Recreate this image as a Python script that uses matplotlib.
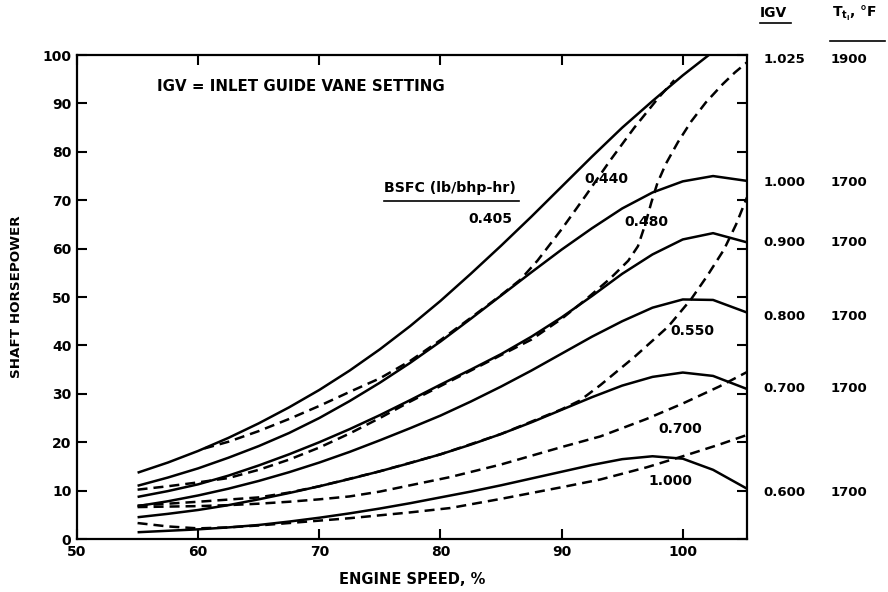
import matplotlib
matplotlib.use("Agg")
import matplotlib.pyplot as plt
from matplotlib.transforms import blended_transform_factory

plt.rcParams['font.family'] = 'DejaVu Sans'
plt.rcParams['font.weight'] = 'bold'

# ---- solid lines: constant inlet guide vane setting (IGV) ----
x_igv = [55, 57.5, 60, 62.5, 65, 67.5, 70, 72.5, 75, 77.5, 80, 82.5, 85,
         87.5, 90, 92.5, 95, 97.5, 100, 102.5, 105.3]
igv_1025_x = [55, 57.5, 60, 62.5, 65, 67.5, 70, 72.5, 75, 77.5, 80, 82.5, 85,
              87.5, 90, 92.5, 95, 97.5, 100, 102.3]
igv_1025 = [13.7, 15.8, 18.2, 20.9, 23.9, 27.2, 30.8, 34.8, 39.2, 44.0, 49.2,
            54.8, 60.6, 66.6, 72.8, 79.0, 85.0, 90.5, 95.8, 100.3]
igv_1000 = [11.0, 12.7, 14.6, 16.8, 19.2, 21.9, 25.0, 28.5, 32.3, 36.4, 40.8,
            45.5, 50.3, 55.1, 59.8, 64.2, 68.3, 71.6, 73.9, 75.0, 74.0]
igv_0900 = [8.7, 9.9, 11.3, 13.1, 15.2, 17.5, 20.0, 22.7, 25.6, 28.7, 31.9,
            35.0, 38.2, 41.8, 45.8, 50.2, 54.8, 58.8, 61.9, 63.2, 61.3]
igv_0800 = [6.8, 7.8, 9.0, 10.4, 12.0, 13.8, 15.8, 18.0, 20.4, 22.9, 25.5,
            28.4, 31.5, 34.8, 38.3, 41.8, 45.0, 47.8, 49.5, 49.4, 46.8]
igv_0700 = [4.5, 5.2, 6.0, 7.0, 8.2, 9.5, 10.9, 12.4, 14.0, 15.7, 17.5,
            19.5, 21.7, 24.1, 26.7, 29.3, 31.7, 33.5, 34.4, 33.7, 31.0]
igv_0600 = [1.4, 1.7, 2.0, 2.4, 2.9, 3.6, 4.4, 5.3, 6.3, 7.4, 8.6,
            9.8, 11.1, 12.5, 13.9, 15.3, 16.5, 17.1, 16.6, 14.3, 10.4]

# ---- dashed lines: constant BSFC (lb/bhp-hr) ----
bsfc_0440_x = [60.5, 62.5, 65, 67.5, 70, 72.5, 75, 77.5, 80, 82.5, 85, 86.6,
               88, 90, 92, 94, 96, 98, 99.3]
bsfc_0440 = [18.7, 20.1, 22.3, 24.8, 27.5, 30.4, 33.2, 36.8, 41.1, 45.7, 50.4,
             53.6, 57.5, 64.0, 71.0, 78.2, 85.0, 91.2, 94.8]
bsfc_0480_x = [55, 57.5, 60, 62.5, 65, 67.5, 70, 72.5, 75, 77.5, 80, 82.5, 85,
               87.5, 90, 92, 94, 95.5, 96.3, 96.9, 97.4, 97.9, 98.6, 99.6,
               100.7, 101.9, 103.3, 104.3, 105.3]
bsfc_0480 = [10.2, 10.9, 11.7, 12.6, 14.3, 16.4, 18.9, 21.8, 25.0, 28.4, 31.6,
             34.8, 38.0, 41.2, 45.5, 49.5, 53.8, 57.5, 60.5, 65.0, 69.5, 73.5,
             77.5, 82.0, 86.3, 90.2, 94.0, 96.4, 98.5]
bsfc_0550_x = [55, 60, 65, 67.5, 70, 75, 80, 85, 90, 91.5, 93.2, 96, 98.8,
               100.7, 102, 103.4, 104.4, 105.3]
bsfc_0550 = [6.9, 7.7, 8.6, 9.6, 10.9, 14.0, 17.5, 21.7, 26.8, 28.6, 31.8,
             37.6, 43.9, 49.6, 54.3, 59.8, 65.0, 70.6]
bsfc_0700_x = [55, 57.5, 60, 62.5, 65, 67.5, 70, 72.5, 75, 77.5, 80.8, 85, 90,
               93.2, 97, 100, 103, 105.3]
bsfc_0700 = [6.6, 6.7, 6.8, 7.0, 7.3, 7.7, 8.2, 8.8, 9.8, 11.1, 12.8, 15.4,
             19.0, 21.2, 24.8, 28.0, 31.5, 34.5]
bsfc_1000_x = [55, 57.5, 60, 62.5, 65, 67.5, 70, 72.5, 75, 77.5, 80.8, 85, 90,
               93.2, 97, 100, 103, 105.3]
bsfc_1000 = [3.3, 2.6, 2.2, 2.4, 2.8, 3.3, 3.8, 4.3, 4.9, 5.5, 6.4, 8.3, 10.7,
             12.3, 14.8, 17.1, 19.5, 21.5]

# right-hand table: IGV setting and turbine inlet temperature
igv_labels = ['1.025', '1.000', '0.900', '0.800', '0.700', '0.600']
igv_label_y = [99.0, 73.7, 61.3, 46.0, 31.0, 9.7]
tit_labels = ['1900', '1700', '1700', '1700', '1700', '1700']

bsfc_labels = ['0.440', '0.480', '0.550', '0.700', '1.000']
bsfc_label_x = [93.7, 97.0, 100.8, 99.8, 99.0]
bsfc_label_y = [74.3, 65.6, 42.9, 22.8, 12.0]

fig = plt.figure(figsize=(8.88, 5.92), dpi=100)
ax = fig.add_axes([0.0867, 0.0895, 0.7545, 0.8175])

lw = 1.8
for xs, ys in [(igv_1025_x, igv_1025), (x_igv, igv_1000), (x_igv, igv_0900),
               (x_igv, igv_0800), (x_igv, igv_0700), (x_igv, igv_0600)]:
    ax.plot(xs, ys, color='black', lw=lw, solid_capstyle='butt',
            solid_joinstyle='round')

for xs, ys in [(bsfc_0440_x, bsfc_0440), (bsfc_0480_x, bsfc_0480),
               (bsfc_0550_x, bsfc_0550), (bsfc_0700_x, bsfc_0700),
               (bsfc_1000_x, bsfc_1000)]:
    ax.plot(xs, ys, color='black', lw=lw, dashes=(4, 2.4))

ax.set_xlim(50, 105.3)
ax.set_ylim(0, 100)

for side in ['left', 'right', 'top', 'bottom']:
    ax.spines[side].set_linewidth(1.6)

ax.set_xticks([50, 60, 70, 80, 90, 100])
ax.set_yticks(range(0, 101, 10))
ax.tick_params(axis='both', direction='in', length=7, width=1.5,
               labelsize=10, pad=4, top=True, right=True)
for lab in ax.get_xticklabels() + ax.get_yticklabels():
    lab.set_fontweight('bold')

ax.set_xlabel('ENGINE SPEED, %', fontsize=10.5, fontweight='bold',
              labelpad=10)
ax.set_ylabel('SHAFT HORSEPOWER', fontsize=9.7, fontweight='bold',
              labelpad=14)

ax.text(56.6, 93.4, 'IGV = INLET GUIDE VANE SETTING', fontsize=10.8,
        fontweight='bold', va='center', ha='left')
ax.text(75.3, 72.6, 'BSFC (lb/bhp-hr)', fontsize=10.2, fontweight='bold',
        va='center', ha='left')
ax.plot([75.3, 86.5], [69.8, 69.8], color='black', lw=1.2, clip_on=False)
ax.text(82.3, 66.2, '0.405', fontsize=10, fontweight='bold', va='center')

for lab, lx, ly in zip(bsfc_labels, bsfc_label_x, bsfc_label_y):
    ax.text(lx, ly, lab, fontsize=10, fontweight='bold', ha='center',
            va='center')

trans = blended_transform_factory(ax.transAxes, ax.transData)
for lab, t, y in zip(igv_labels, tit_labels, igv_label_y):
    ax.text(1.024, y, lab, transform=trans, fontsize=9.5, fontweight='bold',
            va='center', ha='left')
    ax.text(1.124, y, t, transform=trans, fontsize=9.5, fontweight='bold',
            va='center', ha='left')

ax.text(1.019, 1.087, 'IGV', transform=ax.transAxes, fontsize=10,
        fontweight='bold', va='center', ha='left')
ax.plot([1.019, 1.065], [1.066, 1.066], transform=ax.transAxes,
        color='black', lw=1.2, clip_on=False)
ax.text(1.127, 1.085, r'$\mathbf{T}_{\mathbf{t}_{\mathbf{i}}}$, °F',
        transform=ax.transAxes, fontsize=10, fontweight='bold', va='center',
        ha='left')
ax.plot([1.124, 1.206], [1.03, 1.03], transform=ax.transAxes, color='black',
        lw=1.2, clip_on=False)

fig.savefig('out.png', dpi=100)
